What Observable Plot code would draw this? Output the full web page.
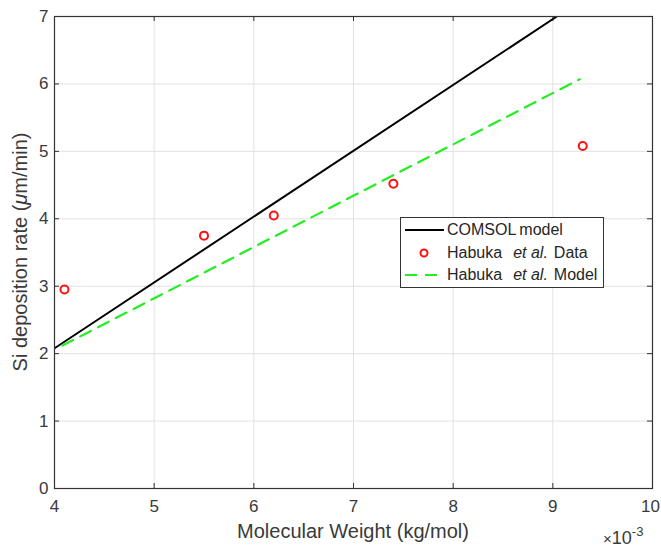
<!DOCTYPE html>
<html><head><meta charset="utf-8">
<script src="https://cdn.jsdelivr.net/npm/d3@7"></script>
<script src="https://cdn.jsdelivr.net/npm/@observablehq/plot@0.6"></script>
<style>
body{margin:0;background:#fff;font-family:"Liberation Sans",Arial,sans-serif;}
#wrap{position:relative;width:661px;height:547px;overflow:hidden;}
.lbl{position:absolute;color:#3a3a3a;font-size:20px;white-space:nowrap;line-height:1;}
#legend{position:absolute;left:400px;top:217px;width:202px;height:69px;border:1px solid #333;background:#fff;font-size:16px;color:#262626;}
.row{position:absolute;left:0;height:20px;width:200px;white-space:nowrap;}
.row svg{position:absolute;left:3px;top:0;}
.row span.t{position:absolute;left:46px;top:1px;line-height:18px;}
.g1{display:inline-block;width:11px;}
.g2{display:inline-block;width:6px;}
</style></head>
<body><div id="wrap"></div>
<script>
const xTicks = [0.004,0.005,0.006,0.007,0.008,0.009,0.010];
const yTicks = [0,1,2,3,4,5,6,7];
const comsolX = [0.004, 0.00904];
const comsolY = [2.08, 7.0];
const dataX = [0.0041, 0.0055, 0.0062, 0.0074, 0.0093];
const dataY = [2.95, 3.75, 4.05, 4.52, 5.08];
const modelX = [0.00408, 0.00927];
const modelY = [2.12, 6.07];

const comsol = comsolX.map((x,i)=>({x, y: comsolY[i]}));
const data = dataX.map((x,i)=>({x, y: dataY[i]}));
const model = modelX.map((x,i)=>({x, y: modelY[i]}));

const W=661,H=547,mT=16,mB=59,mL=54,mR=9;
const ph = H-mT-mB, pw = W-mL-mR, tl = 5;
const green = "#22ee22";
const fmtX = d => String(Math.round(d*1000));

const chart = Plot.plot({
  width: W, height: H, marginTop: mT, marginBottom: mB, marginLeft: mL, marginRight: mR,
  style: {fontFamily: '"Liberation Sans", Arial, sans-serif', fontSize: "17px", color: "#3a3a3a", background: "#fff", overflow: "visible"},
  x: {domain: [0.004, 0.010]},
  y: {domain: [0, 7]},
  marks: [
    Plot.gridX(xTicks, {stroke: "#e2e2e2", strokeOpacity: 1}),
    Plot.gridY(yTicks, {stroke: "#e2e2e2", strokeOpacity: 1}),
    Plot.ruleX(xTicks, {x: d=>d, insetTop: ph-tl, stroke: "#333"}),
    Plot.ruleX(xTicks, {x: d=>d, insetBottom: ph-tl, stroke: "#333"}),
    Plot.ruleY(yTicks, {y: d=>d, insetRight: pw-tl, stroke: "#333"}),
    Plot.ruleY(yTicks, {y: d=>d, insetLeft: pw-tl, stroke: "#333"}),
    Plot.axisX(xTicks.slice(0, -1), {tickSize: 0, tickPadding: 11, tickFormat: fmtX, label: null, fill: "#3a3a3a", fontSize: 17}),
    Plot.axisX(xTicks.slice(-1), {tickSize: 0, tickPadding: 11, tickFormat: fmtX, label: null, fill: "#3a3a3a", fontSize: 17, dx: -2}),
    Plot.axisY(yTicks, {tickSize: 0, tickPadding: 6, tickFormat: d => String(d), label: null, fill: "#3a3a3a", fontSize: 17}),
    Plot.line(comsol, {x: "x", y: "y", stroke: "#000", strokeWidth: 2, clip: true}),
    Plot.line(model, {x: "x", y: "y", stroke: green, strokeWidth: 2.2, strokeDasharray: "12,8", clip: true}),
    Plot.dot(data, {x: "x", y: "y", r: 4, stroke: "#ff1010", strokeWidth: 2, fill: "none"}),
    Plot.frame({stroke: "#333", strokeWidth: 1.2})
  ]
});
const wrap = document.getElementById("wrap");
wrap.appendChild(chart);

function addDiv(html, style, cls){const d=document.createElement("div");d.className=cls||"lbl";d.innerHTML=html;Object.assign(d.style,style);wrap.appendChild(d);return d;}
addDiv("Molecular Weight (kg/mol)", {left:"0px", width:(mL*2+pw)+"px", textAlign:"center", top:"521px"});
addDiv('Si deposition rate (<i>&mu;</i>m/min)', {left:"20px", top:(mT+ph/2)+"px", transform:"translate(-50%,-50%) rotate(-90deg)"});
addDiv('<span style="font-size:15px">&times;</span>10<sup style="font-size:13px;position:relative;top:-1px">-3</sup>', {left:"603px", top:"526px", fontSize:"18px"});

const legend = addDiv("", {}, "");
legend.id = "legend";
legend.innerHTML = `
<div class="row" style="top:2px"><svg width="42" height="20"><line x1="1" x2="40" y1="10" y2="10" stroke="#000" stroke-width="2"/></svg><span class="t">COMSOL<span style="display:inline-block;width:3px"></span>model</span></div>
<div class="row" style="top:25px"><svg width="42" height="20"><circle cx="20" cy="10" r="3.5" fill="none" stroke="#ff1010" stroke-width="2"/></svg><span class="t">Habuka<span class="g1"></span><i>et al.</i><span class="g2"></span>Data</span></div>
<div class="row" style="top:47px"><svg width="42" height="20"><line x1="1" x2="40" y1="10" y2="10" stroke="${green}" stroke-width="2.2" stroke-dasharray="12,8"/></svg><span class="t">Habuka<span class="g1"></span><i>et al.</i><span class="g2"></span>Model</span></div>`;
</script></body></html>
